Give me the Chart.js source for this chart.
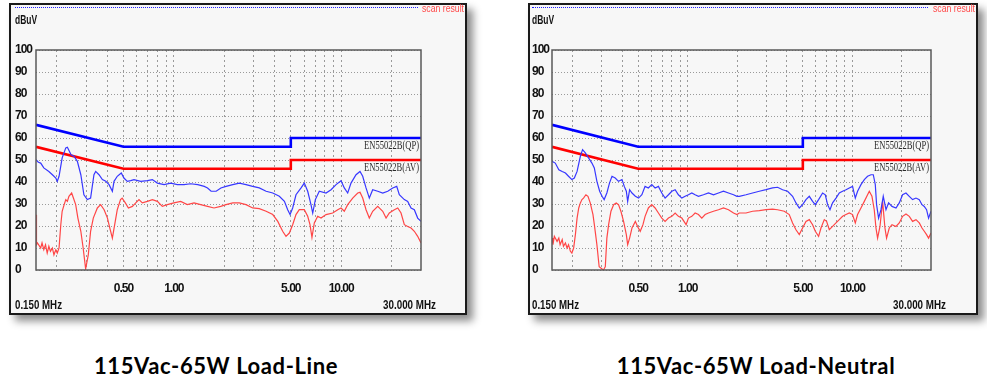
<!DOCTYPE html>
<html>
<head>
<meta charset="utf-8">
<script src="https://cdn.jsdelivr.net/npm/chart.js@4.4.1/dist/chart.umd.min.js"></script>
<style>
  body { margin: 0; background: #fff; width: 987px; height: 381px; position: relative; overflow: hidden; }
  .panel { position: absolute; top: 3px; height: 312px; box-sizing: border-box; background: #f7f7f7;
           border: 2px solid #1a1a1a; box-shadow: 6px 6px 8px rgba(0,0,0,0.45); }
  .scanline { position: absolute; top: 7px; height: 0; border-top: 1px dotted #2020ff; z-index: 2; }
  canvas { position: absolute; top: 3px; }
  .title { position: absolute; top: 352px; width: 400px; text-align: center; line-height: 24px;
           font: bold 22px Lato, 'Open Sans', sans-serif; letter-spacing: 0.6px; color: #000; }
</style>
</head>
<body>
<div class="panel" style="left:9px;width:458px"></div>
<div class="panel" style="left:528px;width:450px"></div>
<canvas id="lineChart" width="458" height="312" style="left:9px"></canvas>
<canvas id="neutralChart" width="450" height="312" style="left:528px"></canvas>
<div class="scanline" style="left:15px;width:403px"></div>
<div class="scanline" style="left:532px;width:396px"></div>
<div class="title" style="left:16px">115Vac-65W Load-Line</div>
<div class="title" style="left:556px">115Vac-65W Load-Neutral</div>

<script>
// EN55022 class B limits (MHz / dBuV)
const limitFreq = [0.15, 0.5, 5, 5, 30];
const qpLimit = [66, 56, 56, 60, 60];
const avLimit = [56, 46, 46, 50, 50];

// axis
const gridFreqs = [0.2, 0.3, 0.4, 0.5, 0.6, 0.7, 0.8, 0.9, 1, 2, 3, 4, 5, 6, 7, 8, 9, 10, 20];
const xLabelFreqs = [0.5, 1, 5, 10];
const xLabelTexts = ['0.50', '1.00', '5.00', '10.00'];
const yMin = 0, yMax = 100, yStep = 10;

// Load-Line scan
const lineQpFreq = [0.150,0.155,0.160,0.167,0.179,0.188,0.197,0.201,0.206,0.215,0.226,0.231,0.243,0.253,0.265,0.278,0.290,0.304,0.318,0.333,
  0.341,0.357,0.374,0.392,0.410,0.429,0.439,0.459,0.485,0.503,0.527,0.552,0.578,0.634,0.695,0.744,0.797,0.874,0.958,1.05,
  1.15,1.26,1.39,1.52,1.59,1.67,1.79,1.91,2.05,2.25,2.46,2.70,2.96,3.24,3.56,3.90,4.27,4.58,4.79,4.95,
  5.13,5.37,5.76,6.02,6.31,6.60,6.76,7.01,7.40,8.12,8.70,9.32,9.98,10.44,10.94,11.45,12.27,12.96,13.45,14.08,
  14.73,15.43,16.54,17.72,18.98,20.33,21.48,22.26,23.85,24.98,26.16,27.37,28.66,30.0];
const lineQpLevel = [50.1,49.0,48.6,46.4,44.8,43.3,41.8,40.3,42.6,51.0,55.5,55.8,52.4,51.7,49.4,43.3,34.2,32.0,32.7,43.3,
  44.8,43.3,41.1,40.3,38.8,35.8,40.3,42.6,44.1,41.8,40.3,40.6,41.1,40.3,40.6,41.1,39.5,38.8,39.5,38.8,
  38.8,39.2,38.8,38.0,37.3,35.8,35.8,37.3,38.0,38.8,39.5,38.8,38.0,37.3,35.8,35.0,33.5,31.2,27.4,25.2,
  28.2,34.2,37.3,39.5,35.8,29.7,25.9,32.0,35.8,35.0,36.5,38.8,40.6,37.3,35.0,39.5,43.3,44.8,42.6,37.3,
  32.7,36.5,35.8,35.0,35.8,37.3,38.0,34.2,32.0,31.2,28.2,27.4,23.6,22.1];
const lineAvFreq = [0.150,0.151,0.153,0.160,0.163,0.167,0.171,0.175,0.179,0.183,0.188,0.192,0.197,0.201,0.206,0.211,0.215,0.221,0.226,0.231,
  0.236,0.245,0.251,0.259,0.267,0.278,0.287,0.297,0.308,0.318,0.330,0.349,0.365,0.383,0.401,0.414,0.429,0.443,0.459,0.480,
  0.491,0.513,0.535,0.565,0.592,0.619,0.648,0.695,0.744,0.797,0.853,0.914,1.0,1.099,1.203,1.320,1.447,1.590,1.738,1.905,
  2.05,2.25,2.46,2.70,2.96,3.24,3.56,3.90,4.18,4.47,4.68,4.90,5.13,5.37,5.62,6.02,6.31,6.51,6.69,6.91,
  7.24,7.58,8.12,8.90,9.54,9.98,10.44,10.94,11.72,12.56,12.96,13.45,14.08,14.73,15.43,16.54,17.72,18.55,19.40,20.79,
  21.78,22.79,23.85,24.98,26.16,27.37,28.66,30.0];
const lineAvLevel = [25.1,11.5,12.3,10.0,12.3,9.2,11.5,7.7,10.8,8.5,10.0,6.9,9.2,7.7,10.0,20.6,26.7,29.7,32.0,31.2,
  33.5,35.0,32.7,29.7,23.6,17.6,10.0,0.5,6.9,17.6,23.6,28.2,29.7,27.4,23.6,19.1,14.5,20.6,27.4,32.0,
  32.7,30.5,28.2,28.9,30.5,32.0,30.5,31.2,32.0,31.2,28.9,29.7,30.5,31.2,29.7,30.5,29.7,28.9,28.2,28.9,
  29.7,30.5,30.5,29.7,28.2,27.9,26.7,25.2,22.1,17.6,15.3,16.8,20.6,25.2,27.4,27.4,24.4,20.6,14.8,21.4,
  24.4,23.6,25.2,25.9,27.4,28.2,26.7,29.7,32.7,35.0,35.3,32.7,27.4,23.6,26.7,28.9,26.7,23.6,25.9,27.4,
  28.2,25.9,20.6,19.8,19.1,17.6,15.3,12.3];

// Load-Neutral scan
const neutralQpFreq = [0.150,0.157,0.165,0.173,0.181,0.189,0.198,0.205,0.213,0.223,0.230,0.239,0.250,0.262,0.271,0.281,0.292,0.302,0.311,0.323,
  0.335,0.347,0.363,0.380,0.399,0.412,0.424,0.432,0.444,0.459,0.481,0.503,0.527,0.551,0.577,0.605,0.634,0.664,0.696,0.729,
  0.764,0.801,0.839,0.878,0.921,0.965,1.010,1.059,1.109,1.162,1.246,1.337,1.434,1.538,1.649,1.769,1.898,1.990,2.057,2.259,
  2.477,2.721,2.988,3.276,3.513,3.768,4.041,4.333,4.543,4.758,4.983,5.225,5.473,5.732,5.952,6.233,6.591,6.844,7.068,7.308,
  7.578,7.950,8.324,8.716,9.141,9.572,10.02,10.41,10.75,11.27,11.81,12.36,12.96,13.39,13.77,14.02,14.42,14.91,15.39,15.99,
  16.58,17.39,18.39,19.25,20.17,21.15,22.14,23.19,24.32,25.47,26.45,27.31,28.20,29.00,30.0];
const neutralQpLevel = [49.4,48.6,45.6,44.8,44.1,42.6,41.1,41.8,44.8,51.7,54.7,53.2,51.0,48.6,46.4,40.3,35.8,33.5,32.0,35.0,
  39.5,42.6,41.8,40.3,41.1,38.0,35.8,31.2,36.5,35.0,33.5,32.7,34.2,38.0,37.3,38.8,37.3,38.0,35.0,32.7,
  34.2,35.8,36.5,34.2,32.7,33.5,34.2,35.0,34.2,33.5,34.2,35.0,34.2,35.0,35.8,35.0,34.2,33.5,33.5,34.2,
  35.0,35.8,36.5,37.3,37.6,36.5,35.8,33.5,30.5,28.2,29.7,32.0,33.5,31.2,29.7,32.0,35.0,34.2,29.7,27.4,
  30.5,32.7,35.0,35.8,36.5,37.3,38.0,32.7,35.8,38.8,41.1,42.6,43.3,43.3,38.8,29.7,23.6,27.4,33.5,27.4,
  30.5,28.9,28.2,30.5,34.2,35.0,33.5,32.0,32.7,32.0,29.7,28.9,27.4,23.6,26.7];
const neutralAvFreq = [0.150,0.152,0.155,0.161,0.165,0.168,0.173,0.176,0.181,0.185,0.189,0.194,0.198,0.203,0.208,0.213,0.218,0.223,0.228,0.233,
  0.241,0.248,0.256,0.266,0.272,0.281,0.290,0.302,0.308,0.316,0.323,0.331,0.342,0.355,0.368,0.380,0.393,0.408,0.424,0.432,
  0.444,0.459,0.481,0.496,0.515,0.535,0.551,0.577,0.605,0.634,0.664,0.696,0.729,0.764,0.801,0.839,0.878,0.921,0.978,1.010,
  1.059,1.109,1.162,1.218,1.276,1.337,1.434,1.538,1.649,1.769,1.898,1.990,2.057,2.259,2.477,2.721,2.988,3.276,3.513,3.858,
  4.135,4.333,4.543,4.758,4.983,5.225,5.473,5.732,5.952,6.233,6.444,6.749,6.970,7.237,7.578,7.950,8.324,8.716,9.141,9.572,
  10.02,10.41,10.75,11.27,11.81,12.36,12.66,13.14,13.57,13.90,14.22,14.70,15.25,15.76,16.12,16.74,17.39,18.39,19.25,20.17,
  21.15,22.14,23.19,24.32,25.47,26.45,27.31,28.20,29.00,30.0];
const neutralAvLevel = [14.5,11.5,15.3,13.0,14.5,11.5,13.8,10.8,12.3,10.0,11.5,8.5,7.7,10.0,16.1,23.6,28.2,30.5,32.0,32.7,
  34.2,33.5,30.5,25.2,19.8,11.5,1.5,0.5,0.0,1.5,14.5,20.6,26.7,29.7,30.5,29.7,26.7,22.1,16.1,11.5,
  14.5,19.1,22.1,19.8,17.6,20.6,24.4,28.2,29.7,28.2,25.9,23.6,22.1,23.6,24.4,25.9,24.4,23.6,20.6,23.6,
  24.4,25.9,25.2,23.6,25.2,25.9,26.7,27.4,28.2,27.4,25.9,25.2,25.9,25.9,26.7,27.0,27.4,27.7,27.4,26.7,
  25.2,21.4,18.3,16.1,19.1,22.1,22.9,20.6,17.6,15.3,19.1,22.9,22.1,18.3,19.8,21.4,22.9,24.4,25.2,25.9,
  25.2,21.4,25.2,28.2,31.2,34.2,35.8,33.5,27.4,19.1,14.5,19.8,31.2,19.1,14.5,19.1,20.6,19.8,21.4,24.4,
  25.5,24.4,22.1,22.9,21.4,19.1,17.6,16.1,14.5,16.8];

const FONT = "'Liberation Sans', Arial, sans-serif";

const toPoints = (freqs, levels) => freqs.map((f, i) => ({ x: f, y: levels[i] }));

// frame, captions and limit names
const emiDecor = {
    id: 'emiDecor',
    beforeDraw(chart) {
        // analyzer font is a narrow bold face, tighten the tick labels
        chart.ctx.letterSpacing = '-1px';
    },
    afterDraw(chart, args, opts) {
        const { ctx, chartArea: a, scales: { y } } = chart;
        const w = chart.width;
        ctx.save();
        ctx.letterSpacing = '0px';

        ctx.strokeStyle = '#5a5a5a';
        ctx.lineWidth = 1.5;
        ctx.strokeRect(a.left, a.top, a.right - a.left, a.bottom - a.top);

        ctx.font = '11px ' + FONT;
        ctx.textBaseline = 'middle';
        ctx.textAlign = 'right';
        ctx.fillStyle = '#ff4a4a';
        ctx.fillText('scan result', w - 3, 6, 42);

        ctx.fillStyle = '#111';
        ctx.font = 'bold 12px ' + FONT;
        ctx.textAlign = 'left';
        ctx.fillText('dBuV', opts.labelX, 17.5, 22);
        ctx.fillText('0.150 MHz', opts.labelX, 302.5, 47);
        ctx.textAlign = 'right';
        ctx.fillText('30.000 MHz', a.right + 15, 302.5, 53);

        ctx.fillStyle = '#2a2a2a';
        ctx.font = '12px "Liberation Serif", "DejaVu Serif", serif';
        ctx.fillText('EN55022B(QP)', a.right - 2, y.getPixelForValue(qpLimit[qpLimit.length - 1]) + 7.5, 55);
        ctx.fillText('EN55022B(AV)', a.right - 2, y.getPixelForValue(avLimit[avLimit.length - 1]) + 7.5, 55);
        ctx.restore();
    }
};

function makeChart(id, qpF, qpL, avF, avL, geo) {
    const ctx = document.getElementById(id).getContext('2d');
    return new Chart(ctx, {
        type: 'line',
        data: {
            datasets: [
                { data: toPoints(qpF, qpL), borderColor: 'rgb(55,55,255)', borderWidth: 1.2, order: 0 },
                { data: toPoints(avF, avL), borderColor: 'rgb(255,70,70)', borderWidth: 1.2, order: 0 },
                { data: toPoints(limitFreq, qpLimit), borderColor: '#0000ff', borderWidth: 2.6, order: 1 },
                { data: toPoints(limitFreq, avLimit), borderColor: '#ff0000', borderWidth: 2.6, order: 1 }
            ]
        },
        options: {
            responsive: false,
            animation: false,
            devicePixelRatio: 1,
            elements: { point: { radius: 0 }, line: { tension: 0, fill: false } },
            layout: { padding: { left: geo.padLeft, right: geo.padRight, top: 47, bottom: 0 } },
            plugins: { legend: { display: false }, tooltip: { enabled: false }, emiDecor: { labelX: geo.padLeft } },
            scales: {
                x: {
                    type: 'logarithmic',
                    min: 0.15,
                    max: 30,
                    afterBuildTicks: s => { s.ticks = gridFreqs.map(v => ({ value: v })); },
                    afterFit: s => { s.height = 45; },
                    grid: { color: '#9a9a9a', lineWidth: 1, drawTicks: false },
                    border: { display: false, dash: [2, 3] },
                    ticks: {
                        autoSkip: false, maxRotation: 0, padding: 11, color: '#111',
                        font: { family: FONT, size: 12, weight: 'bold' },
                        callback: v => {
                            const i = xLabelFreqs.indexOf(v);
                            return i >= 0 ? xLabelTexts[i] : '';
                        }
                    }
                },
                y: {
                    min: yMin,
                    max: yMax,
                    afterFit: s => { s.width = geo.yWidth; },
                    grid: { color: '#9a9a9a', lineWidth: 1, drawTicks: false },
                    border: { display: false, dash: [1, 2] },
                    ticks: {
                        stepSize: yStep, crossAlign: 'far', color: '#111',
                        font: { family: FONT, size: 12, weight: 'bold' }
                    }
                }
            }
        },
        plugins: [emiDecor]
    });
}

makeChart('lineChart', lineQpFreq, lineQpLevel, lineAvFreq, lineAvLevel, { padLeft: 6, yWidth: 21, padRight: 46 });
makeChart('neutralChart', neutralQpFreq, neutralQpLevel, neutralAvFreq, neutralAvLevel, { padLeft: 4, yWidth: 20, padRight: 47 });
</script>
</body>
</html>
